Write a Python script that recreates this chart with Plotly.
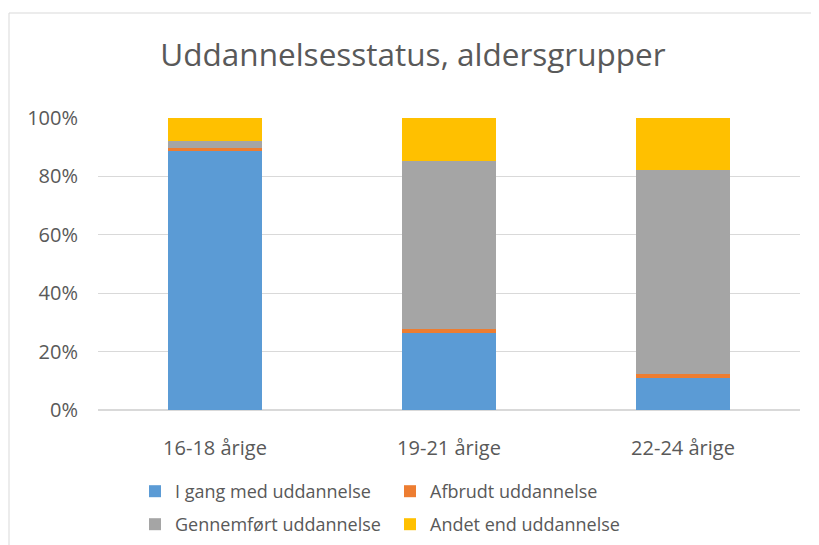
import plotly.graph_objects as go

groups = ["16-18 årige", "19-21 årige", "22-24 årige"]
series_names = ["I gang med uddannelse", "Afbrudt uddannelse",
                "Gennemført uddannelse", "Andet end uddannelse"]
i_gang = [88.8, 26.4, 11.0]
afbrudt = [0.9, 1.4, 1.4]
gennemfort = [2.4, 57.5, 69.8]
andet = [7.9, 14.7, 17.8]
colors = ["#5B9BD5", "#ED7D31", "#A5A5A5", "#FFC000"]
tick_vals = [0, 20, 40, 60, 80, 100]
tick_text = ["0%", "20%", "40%", "60%", "80%", "100%"]

FONT = "Open Sans"
TEXT_COLOR = "#595959"
W, H = 819, 545
OFF = 8  # page body margin shifts the figure by this much

# one legend per entry so they sit in a 2x2 grid like the original
legend_ids = ["legend", "legend2", "legend3", "legend4"]
legend_pos = [(127, 465), (382, 465), (127, 498), (382, 498)]  # px, top-left

fig = go.Figure()
for name, values, color, lid in zip(series_names, [i_gang, afbrudt, gennemfort, andet],
                                    colors, legend_ids):
    fig.add_trace(go.Bar(
        x=groups,
        y=values,
        name=name,
        legend=lid,
        marker=dict(color=color, line_width=0),
    ))

# plot area in figure pixels
pl, pr, pt, pb = 98 - OFF, 800 - OFF, 118 - OFF, 410 - OFF
pw, ph = pr - pl, pb - pt

# light frame around the chart area
fig.add_shape(type="rect", xref="paper", yref="paper",
              x0=(1 - pl) / pw, y0=(pb - 560) / ph,
              x1=(830 - pl) / pw, y1=(pb - (13 - OFF)) / ph,
              line=dict(color="#d9d9d9", width=1), fillcolor="rgba(0,0,0,0)")

legends = {}
for lid, (px, py) in zip(legend_ids, legend_pos):
    legends[lid] = dict(xref="container", yref="container",
                        x=px / W, y=1 - py / H, xanchor="left", yanchor="top",
                        font=dict(size=18, color=TEXT_COLOR), itemwidth=30,
                        bgcolor="rgba(0,0,0,0)")

fig.update_layout(
    barmode="stack",
    bargap=0.6,
    width=W,
    height=H,
    margin=dict(l=pl, r=W - pr, t=pt, b=H - pb, autoexpand=False),
    paper_bgcolor="white",
    plot_bgcolor="white",
    font=dict(family=FONT, color=TEXT_COLOR, size=20),
    title=dict(text="Uddannelsesstatus, aldersgrupper", x=(413 - OFF) / W, xanchor="center",
               y=1 - (55 - OFF) / H, yanchor="middle",
               font=dict(family=FONT, size=31.5, color=TEXT_COLOR)),
    xaxis=dict(tickfont=dict(size=20), showline=False, ticks="outside",
               ticklen=20, tickcolor="white"),
    yaxis=dict(range=[0, 100], tickvals=tick_vals, ticktext=tick_text,
               gridcolor="#d9d9d9", zeroline=True, zerolinecolor="#d9d9d9",
               tickfont=dict(size=20), ticklen=15, ticks="outside", tickcolor="white"),
    showlegend=True,
    **legends,
)

fig.write_html("out.html")
